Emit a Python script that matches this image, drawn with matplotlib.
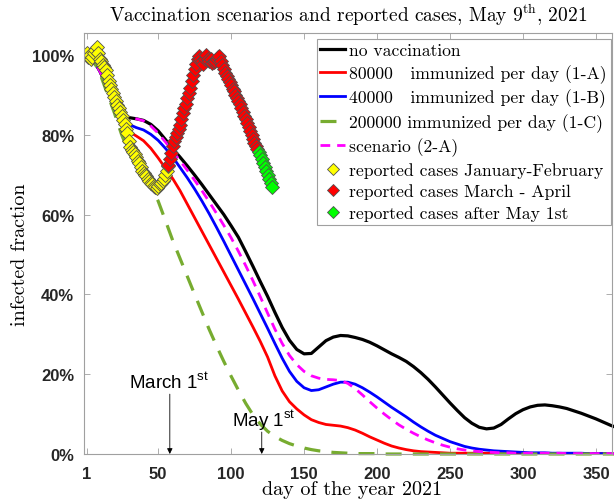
import matplotlib
matplotlib.use('Agg')  # no display

from matplotlib import pyplot

pyplot.rcParams['font.family'] = 'Liberation Sans'
pyplot.rcParams['mathtext.fontset'] = 'custom'
pyplot.rcParams['mathtext.rm'] = 'cmr10'
pyplot.rcParams['mathtext.sf'] = 'Liberation Sans'

# model curves, sampled at these days
days = [1] + list(range(5, 366, 5))

no_vacc = [1.000, 0.990, 0.960, 0.920, 0.885, 0.858, 0.843, 0.840, 0.836, 0.826,
           0.810, 0.788, 0.765, 0.744, 0.722, 0.699, 0.675, 0.650, 0.625, 0.600,
           0.572, 0.543, 0.507, 0.470, 0.432, 0.395, 0.355, 0.317, 0.285, 0.262,
           0.251, 0.252, 0.268, 0.284, 0.293, 0.297, 0.296, 0.292, 0.287, 0.280,
           0.271, 0.261, 0.251, 0.242, 0.232, 0.219, 0.204, 0.187, 0.168, 0.148,
           0.128, 0.109, 0.091, 0.077, 0.067, 0.063, 0.065, 0.074, 0.088, 0.101,
           0.111, 0.118, 0.122, 0.123, 0.121, 0.118, 0.114, 0.108, 0.102, 0.095,
           0.088, 0.080, 0.072, 0.065]

vacc_80k = [1.000, 0.990, 0.960, 0.920, 0.880, 0.845, 0.808, 0.797, 0.785, 0.766,
            0.742, 0.716, 0.690, 0.660, 0.626, 0.592, 0.558, 0.524, 0.490, 0.456,
            0.422, 0.388, 0.353, 0.318, 0.282, 0.243, 0.196, 0.158, 0.131, 0.113,
            0.098, 0.086, 0.079, 0.074, 0.072, 0.070, 0.066, 0.060, 0.052, 0.043,
            0.035, 0.027, 0.020, 0.015, 0.011, 0.008, 0.006, 0.005, 0.004, 0.003,
            0.002, 0.002, 0.002, 0.002, 0.002, 0.002, 0.001, 0.001, 0.001, 0.001,
            0.001, 0.001, 0.001, 0.001, 0.001, 0.001, 0.001, 0.001, 0.001, 0.001,
            0.001, 0.001, 0.001, 0.001]

vacc_40k = [1.000, 0.990, 0.960, 0.920, 0.884, 0.855, 0.826, 0.818, 0.812, 0.801,
            0.786, 0.766, 0.744, 0.718, 0.692, 0.664, 0.634, 0.602, 0.568, 0.533,
            0.497, 0.461, 0.425, 0.389, 0.352, 0.315, 0.277, 0.240, 0.207, 0.182,
            0.166, 0.159, 0.161, 0.168, 0.175, 0.180, 0.180, 0.175, 0.166, 0.155,
            0.143, 0.130, 0.117, 0.105, 0.093, 0.080, 0.068, 0.057, 0.047, 0.039,
            0.031, 0.025, 0.019, 0.015, 0.012, 0.010, 0.008, 0.007, 0.006, 0.005,
            0.004, 0.003, 0.003, 0.003, 0.002, 0.002, 0.002, 0.002, 0.002, 0.001,
            0.001, 0.001, 0.001, 0.001]

vacc_200k = [1.000, 0.990, 0.955, 0.905, 0.855, 0.800, 0.755, 0.724, 0.695, 0.667,
             0.634, 0.585, 0.535, 0.490, 0.445, 0.400, 0.356, 0.312, 0.271, 0.232,
             0.195, 0.160, 0.127, 0.098, 0.075, 0.057, 0.044, 0.034, 0.026, 0.020,
             0.015, 0.011, 0.008, 0.006, 0.004, 0.003, 0.002, 0.001, 0.001, 0.001,
             0.001, 0.000, 0.000, 0.000, 0.000, 0.000, 0.000, 0.000, 0.000, 0.000,
             0.000, 0.000, 0.000, 0.000, 0.000, 0.000, 0.000, 0.000, 0.000, 0.000,
             0.000, 0.000, 0.000, 0.000, 0.000, 0.000, 0.000, 0.000, 0.000, 0.000,
             0.000, 0.000, 0.000, 0.000]

scen_2a = [1.000, 0.990, 0.960, 0.920, 0.885, 0.858, 0.843, 0.840, 0.835, 0.822,
           0.804, 0.782, 0.758, 0.735, 0.711, 0.686, 0.660, 0.632, 0.603, 0.573,
           0.542, 0.508, 0.472, 0.434, 0.394, 0.353, 0.313, 0.277, 0.247, 0.224,
           0.207, 0.196, 0.190, 0.187, 0.186, 0.184, 0.177, 0.164, 0.148, 0.131,
           0.115, 0.100, 0.086, 0.073, 0.062, 0.052, 0.043, 0.035, 0.028, 0.022,
           0.017, 0.013, 0.010, 0.008, 0.006, 0.005, 0.004, 0.003, 0.003, 0.002,
           0.002, 0.002, 0.002, 0.002, 0.002, 0.002, 0.001, 0.001, 0.001, 0.001,
           0.001, 0.001, 0.001, 0.001]

# reported cases (scaled), one point per day
jan_feb_days = list(range(1, 58))
jan_feb = [1.005, 0.995, 1.000, 0.990, 0.995, 1.005, 1.012, 1.020, 1.005, 0.990,
           0.985, 0.975, 0.970, 0.962, 0.950, 0.935, 0.925, 0.915, 0.905, 0.895,
           0.885, 0.875, 0.866, 0.857, 0.848, 0.838, 0.828, 0.815, 0.805, 0.785,
           0.770, 0.762, 0.758, 0.752, 0.745, 0.735, 0.728, 0.718, 0.710, 0.705,
           0.700, 0.697, 0.690, 0.685, 0.680, 0.676, 0.672, 0.668, 0.667, 0.672,
           0.676, 0.680, 0.685, 0.690, 0.698, 0.710, 0.722]

mar_apr_days = list(range(57, 119))
mar_apr = [0.725, 0.740, 0.755, 0.772, 0.785, 0.795, 0.805, 0.815, 0.825, 0.840,
           0.855, 0.867, 0.878, 0.892, 0.905, 0.918, 0.935, 0.950, 0.965, 0.978,
           0.990, 0.998, 0.990, 0.985, 0.978, 0.990, 1.000, 0.990, 0.985, 0.990,
           0.980, 0.982, 0.985, 0.990, 0.995, 0.998, 0.985, 0.975, 0.965, 0.955,
           0.948, 0.940, 0.932, 0.925, 0.915, 0.910, 0.900, 0.892, 0.885, 0.876,
           0.868, 0.858, 0.848, 0.840, 0.830, 0.820, 0.810, 0.800, 0.790, 0.780,
           0.772, 0.765]

may_days = list(range(119, 129))
may = [0.758, 0.750, 0.740, 0.730, 0.720, 0.710, 0.700, 0.690, 0.680, 0.668]

xtick_vals = [1, 50, 100, 150, 200, 250, 300, 350]
ytick_vals = [0, 0.2, 0.4, 0.6, 0.8, 1.0]
ytick_labels = ['0%', '20%', '40%', '60%', '80%', '100%']

legend_labels = ['no vaccination',
                 '80000   immunized per day (1-A)',
                 '40000   immunized per day (1-B)',
                 '200000 immunized per day (1-C)',
                 'scenario (2-A)',
                 'reported cases January-February',
                 'reported cases March - April',
                 'reported cases after May 1st']

fig = pyplot.figure(figsize=(6.14, 5.02), dpi=100)
fig.set_facecolor('white')
ax = fig.add_axes([84 / 614, 47 / 502, 528 / 614, 421 / 502])

ax.plot(days, no_vacc, color='black', lw=2.3, clip_on=False, label=legend_labels[0])
ax.plot(days, vacc_80k, color='#ff0000', lw=2.0, clip_on=False, label=legend_labels[1])
ax.plot(days, vacc_40k, color='#0000ff', lw=2.0, clip_on=False, label=legend_labels[2])
ax.plot(days, vacc_200k, color='#77ac30', lw=2.3, linestyle=(0, (5, 3.5)), clip_on=False,
        label=legend_labels[3])
ax.plot(days, scen_2a, color='#ff00ff', lw=2.0, linestyle=(0, (3.5, 2.5)), clip_on=False,
        label=legend_labels[4])

mk = dict(linestyle='none', marker='D', markersize=7.3, markeredgecolor='#505050',
          markeredgewidth=0.6)
ax.plot(jan_feb_days, jan_feb, markerfacecolor='#ffff00', label=legend_labels[5], **mk)
ax.plot(mar_apr_days, mar_apr, markerfacecolor='#ff0000', label=legend_labels[6], **mk)
ax.plot(may_days, may, markerfacecolor='#00ff00', label=legend_labels[7], **mk)

ax.set_xlim(-0.8, 361)
ax.set_ylim(0, 1.055)
ax.set_xticks(xtick_vals)
ax.set_xticklabels([str(v) for v in xtick_vals], fontweight='bold')
ax.set_yticks(ytick_vals)
ax.set_yticklabels(ytick_labels, fontweight='bold')
ax.tick_params(direction='in', length=4, width=0.6, color='#a0a0a0', labelcolor='#262626',
               labelsize=12, top=True, right=True)
ax.tick_params(axis='x', pad=9)
ax.tick_params(axis='y', pad=7)
for s in ax.spines.values():
    s.set_color('#a0a0a0')
    s.set_linewidth(0.8)

# date markers
arrow = dict(arrowstyle='-|>', color='black', lw=0.6, mutation_scale=8, shrinkA=0, shrinkB=0)
ax.annotate('', xy=(58, 0), xytext=(58, 0.15), arrowprops=arrow)
ax.annotate('', xy=(121, 0), xytext=(121, 0.055), arrowprops=arrow)
ax.text(57.4, 0.18, r'March 1$^{\mathsf{st}}$', fontsize=13.5, ha='center', va='center')
ax.text(122.3, 0.085, r'May 1$^{\mathsf{st}}$', fontsize=13.5, ha='center', va='center')

leg = ax.legend(loc='upper right', bbox_to_anchor=(611 / 614, 1 - 40 / 502),
                bbox_transform=fig.transFigure, borderaxespad=0, fancybox=False,
                edgecolor='#a0a0a0', framealpha=1, prop={'family': 'cmr10', 'size': 12.7},
                handlelength=1.4, handletextpad=0.25, labelspacing=0.33, borderpad=0.22,
                markerscale=0.85)
leg.get_frame().set_linewidth(0.8)

fig.text(348 / 614, 1 - 15 / 502, r'Vaccination scenarios and reported cases, May 9$^{\rm th}$, 2021',
         family='cmr10', fontsize=14, ha='center', va='center')
fig.text(352 / 614, 1 - 490 / 502, 'day of the year 2021', family='cmr10', fontsize=14.5,
         ha='center', va='center')
fig.text(20 / 614, 1 - 255 / 502, 'infected fraction', family='cmr10', fontsize=14.5,
         ha='center', va='center', rotation=90)

fig.savefig('out.png', dpi=100, facecolor=fig.get_facecolor())
